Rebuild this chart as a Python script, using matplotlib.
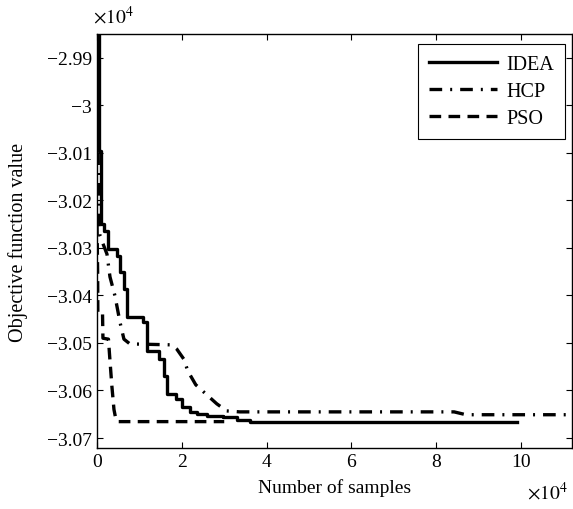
import matplotlib
matplotlib.use("Agg")
import matplotlib.pyplot as plt
from matplotlib.ticker import FuncFormatter, MultipleLocator

plt.rcParams["font.family"] = ["Liberation Serif", "DejaVu Serif"]
plt.rcParams["mathtext.fontset"] = "stix"

# --- data (objective value vs number of samples) ---
idea_x = [0, 470, 1060, 1650, 2590, 4700, 5410, 6350, 7180, 10820, 11760,
          14590, 15760, 16590, 18590, 20000, 21880, 23530, 25880, 29650,
          32940, 36000, 99000]
idea_y = [-29700, -30096, -30249, -30265, -30302, -30317, -30350, -30386,
          -30445, -30456, -30517, -30534, -30569, -30607, -30618, -30635,
          -30645, -30649, -30654, -30656, -30662, -30665.5, -30665.5]

hcp_x = [0, 400, 706, 2350, 3060, 4240, 5410, 6350, 7760, 17650, 18820,
         20470, 21410, 23290, 25880, 28240, 30590, 33650, 84200, 87000, 112000]
hcp_y = [-29760, -30240, -30275, -30313, -30361, -30401, -30456, -30492,
         -30502, -30504, -30513, -30534, -30559, -30588, -30609, -30628,
         -30643, -30645, -30645, -30651, -30651]

pso_x = [0, 150, 200, 1300, 1400, 2700, 3000, 3500, 4000, 4500, 5000, 30000]
pso_y = [-30250, -30350, -30437, -30437, -30490, -30492, -30530, -30590,
         -30640, -30663, -30665.5, -30665.5]

W, H = 573, 510
fig = plt.figure(figsize=(W / 100, H / 100), dpi=100)
ax = fig.add_axes([97 / W, 1 - 449 / H, 475 / W, 414 / H])

ax.plot(idea_x, idea_y, color="black", lw=2.4, drawstyle="steps-post",
        label="IDEA")
ax.plot(hcp_x, hcp_y, color="black", lw=2.4,
        linestyle=(0, (3.8, 2.4, 0.6, 2.4)), label="HCP")
ax.plot(pso_x, pso_y, color="black", lw=2.4, linestyle=(0, (3.5, 2.2)),
        label="PSO")

ax.set_xlim(0, 112000)
ax.set_ylim(-30721, -29850)
ax.xaxis.set_major_locator(MultipleLocator(20000))
ax.yaxis.set_major_locator(MultipleLocator(100))
ax.xaxis.set_major_formatter(FuncFormatter(lambda v, p: f"{v / 1e4:g}"))
ax.yaxis.set_major_formatter(
    FuncFormatter(lambda v, p: f"{round(v / 1e4, 2):g}".replace("-", "\u2212")))
ax.tick_params(direction="in", top=True, right=True, length=4, width=0.8,
               labelsize=14)
for s in ax.spines.values():
    s.set_linewidth(1.0)

ax.set_xlabel("Number of samples", fontsize=14, labelpad=6)
ax.set_ylabel("Objective function value", fontsize=14.5, labelpad=14)

fig.text(93 / W, 1 - 17 / H, r"$\times10^4$", fontsize=14, va="center",
         ha="left")
fig.text(527 / W, 1 - 493 / H, r"$\times10^4$", fontsize=14, va="center",
         ha="left")

leg = ax.legend(loc="upper right", bbox_to_anchor=(565 / W, 1 - 45 / H),
                bbox_transform=fig.transFigure, borderaxespad=0,
                fancybox=False, edgecolor="black", fontsize=14.5,
                handlelength=3.4, handletextpad=0.45, labelspacing=0.38,
                borderpad=0.55, framealpha=1)
leg.get_frame().set_linewidth(0.8)

fig.savefig("out.png", dpi=100)
